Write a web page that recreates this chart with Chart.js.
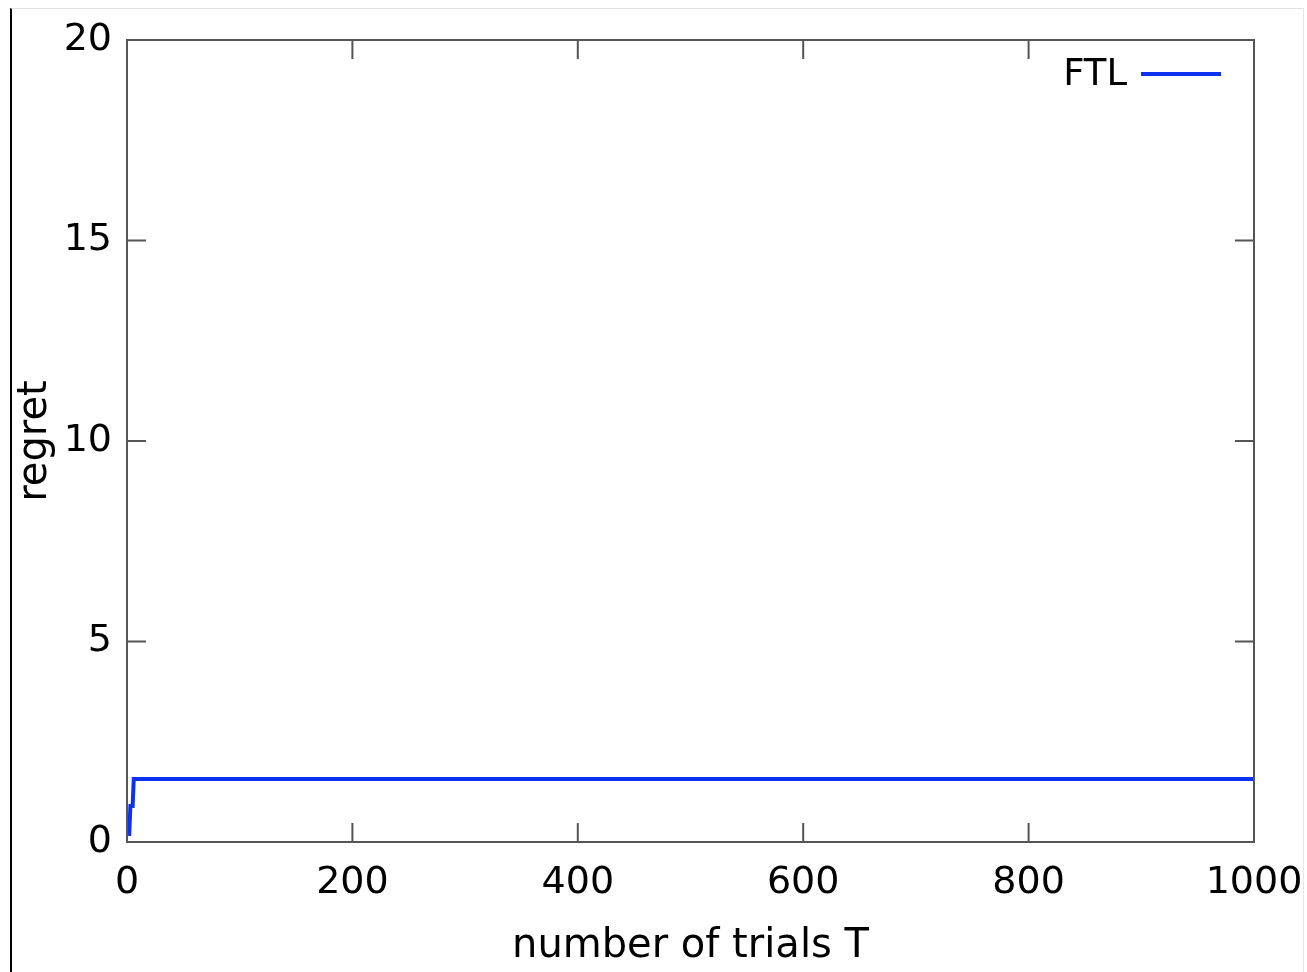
<!DOCTYPE html>
<html>
<head>
<meta charset="utf-8">
<script src="https://cdn.jsdelivr.net/npm/chart.js@4"></script>
<style>
  html, body { margin: 0; padding: 0; background: #fff; }
  #page { position: relative; width: 1307px; height: 972px; overflow: hidden; background: #fff; }
  #clip { position: absolute; left: 0; top: 0; width: 1302px; height: 972px; overflow: hidden; }
  #wrap { position: absolute; left: 0; top: 0; width: 1350px; height: 972px; }
  #frame { position: absolute; left: 10px; top: 8px; width: 1291px; height: 970px; pointer-events: none;
           border-left: 2px solid #000; border-top: 1px solid #e2e2e2; border-right: 1px solid #e6e6e6; }
</style>
</head>
<body>
<div id="page">
  <div id="clip"><div id="wrap"><canvas id="regret"></canvas></div></div>
  <div id="frame"></div>
</div>
<script>
// FTL regret vs. number of trials
const trials = [1, 2, 3, 5, 6, 1000];
const ftlRegret = [0.2, 0.2, 0.9, 0.9, 1.57, 1.57];
const yTicks = [0, 5, 10, 15, 20];
const xTicks = [0, 200, 400, 600, 800, 1000];

const lineColor = "#0a32f0";
const frameColor = "#555";
const font = "'DejaVu Sans', sans-serif";

// gnuplot style: frame all round, inward ticks mirrored on both sides
const gnuFrame = {
  id: "gnuFrame",
  afterDatasetsDraw(chart) {
    const {ctx, chartArea: a, scales: {x, y}} = chart;
    const len = 19;
    ctx.save();
    ctx.strokeStyle = frameColor;
    ctx.lineWidth = 2;
    ctx.strokeRect(a.left, a.top, a.right - a.left, a.bottom - a.top);
    ctx.beginPath();
    xTicks.forEach(v => {
      const px = x.getPixelForValue(v);
      ctx.moveTo(px, a.bottom); ctx.lineTo(px, a.bottom - len);
      ctx.moveTo(px, a.top); ctx.lineTo(px, a.top + len);
    });
    yTicks.forEach(v => {
      const py = y.getPixelForValue(v);
      ctx.moveTo(a.left, py); ctx.lineTo(a.left + len, py);
      ctx.moveTo(a.right, py); ctx.lineTo(a.right - len, py);
    });
    ctx.stroke();
    ctx.restore();
  }
};

// gnuplot style key: label text then line sample, top right inside the frame
const gnuKey = {
  id: "gnuKey",
  afterDatasetsDraw(chart) {
    const {ctx, chartArea: a} = chart;
    const ds = chart.data.datasets[0];
    const sampleRight = a.right - 33, sampleLen = 80, rowY = a.top + 34;
    ctx.save();
    ctx.strokeStyle = ds.borderColor;
    ctx.lineWidth = ds.borderWidth;
    ctx.beginPath();
    ctx.moveTo(sampleRight - sampleLen, rowY);
    ctx.lineTo(sampleRight, rowY);
    ctx.stroke();
    ctx.fillStyle = "#000";
    ctx.font = "37px " + font;
    ctx.textAlign = "right";
    ctx.textBaseline = "alphabetic";
    ctx.fillText(ds.label, sampleRight - sampleLen - 14, rowY + 11);
    ctx.restore();
  }
};

new Chart("regret", {
  type: "line",
  data: {
    datasets: [{
      label: "FTL",
      data: trials.map((t, i) => ({x: t, y: ftlRegret[i]})),
      borderColor: lineColor,
      backgroundColor: lineColor,
      borderWidth: 4,
      pointRadius: 0,
      tension: 0
    }]
  },
  options: {
    responsive: true,
    maintainAspectRatio: false,
    animation: false,
    layout: { padding: { top: 40, right: 96, bottom: 0, left: 0 } },
    plugins: {
      tooltip: { enabled: false },
      legend: { display: false }
    },
    scales: {
      x: {
        type: "linear",
        min: 0, max: 1000,
        afterBuildTicks: s => { s.ticks = xTicks.map(v => ({value: v})); },
        afterFit: s => { s.height = 130; },
        grid: { display: false, drawTicks: false },
        border: { display: false },
        ticks: { color: "#000", padding: 18, maxRotation: 0, font: { family: font, size: 38 },
                 callback: v => String(v) },
        title: { display: true, text: "number of trials T", color: "#000",
                 font: { family: font, size: 40 }, padding: { top: 0, bottom: 1 } }
      },
      y: {
        min: 0, max: 20,
        afterBuildTicks: s => { s.ticks = yTicks.map(v => ({value: v})); },
        afterFit: s => { s.width = 127; },
        grid: { display: false, drawTicks: false },
        border: { display: false },
        ticks: { color: "#000", padding: 15, font: { family: font, size: 38 },
                 callback: v => String(v) },
        title: { display: true, text: "regret", color: "#000",
                 font: { family: font, size: 40 }, padding: { top: 12, bottom: 0 } }
      }
    }
  },
  plugins: [gnuFrame, gnuKey]
});
</script>
</body>
</html>
